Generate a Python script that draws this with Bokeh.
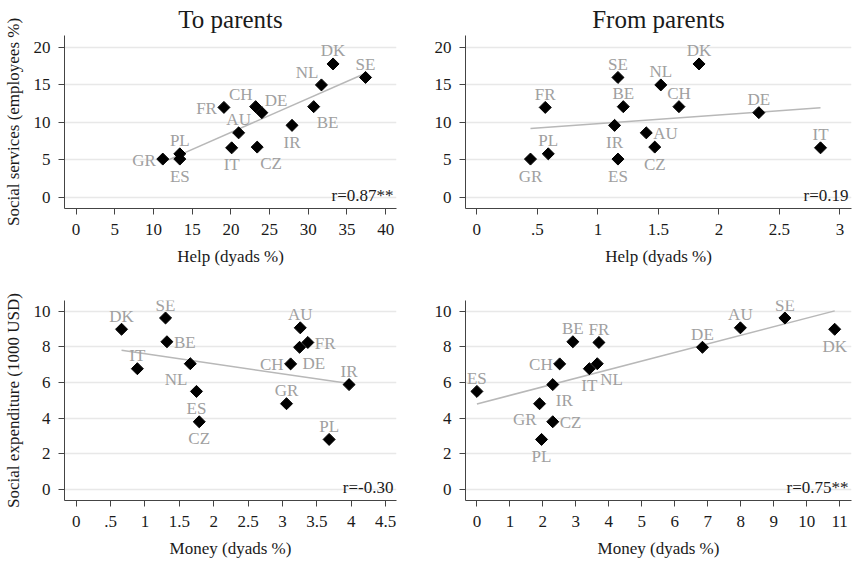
import numpy as np
from bokeh.plotting import figure
from bokeh.layouts import column, row
from bokeh.models import ColumnDataSource, Range1d, FixedTicker
from bokeh.embed import file_html
from bokeh.resources import INLINE
from bokeh.core.properties import value

countries = ["AU", "BE", "CH", "CZ", "DE", "DK", "ES", "FR", "GR", "IR", "IT", "NL", "PL", "SE"]

# y values
social_services = [8.6, 12.1, 12.1, 6.7, 11.3, 17.8, 5.1, 12.0, 5.1, 9.6, 6.6, 15.0, 5.8, 16.0]
social_expenditure = [9.06, 8.28, 7.04, 3.80, 7.97, 8.98, 5.50, 8.24, 4.81, 5.88, 6.77, 7.05, 2.81, 9.61]

# x values
help_to = [21.0, 30.7, 23.2, 23.4, 24.0, 33.2, 13.4, 19.1, 11.2, 27.9, 20.1, 31.7, 13.4, 37.4]
help_from = [1.40, 1.21, 1.67, 1.47, 2.33, 1.836, 1.166, 0.565, 0.443, 1.138, 2.84, 1.52, 0.59, 1.166]
money_to = [3.26, 1.32, 3.12, 1.79, 3.25, 0.66, 1.75, 3.37, 3.06, 3.97, 0.89, 1.66, 3.68, 1.30]
money_from = [7.99, 2.91, 2.51, 2.30, 6.84, 10.85, 0.0, 3.70, 1.90, 2.30, 3.41, 3.65, 1.96, 9.34]

# label clock positions
pos1 = [12, 5, 11, 5, 1, 12, 6, 9, 9, 6, 6, 11, 12, 12]
pos2 = [3, 12, 12, 6, 12, 12, 6, 12, 6, 6, 12, 12, 12, 12]
pos3 = [12, 3, 9, 6, 5, 12, 6, 3, 12, 12, 12, 7, 12, 12]
pos4 = [12, 12, 9, 3, 12, 6, 12, 12, 7, 5, 6, 5, 6, 12]

r_texts = ["r=0.87**", "r=0.19", "r=-0.30", "r=0.75**"]
titles = ["To parents", "From parents"]

x_ticks1 = [0, 5, 10, 15, 20, 25, 30, 35, 40]
x_ticks2 = [0, 0.5, 1, 1.5, 2, 2.5, 3]
x_labels2 = ["0", ".5", "1", "1.5", "2", "2.5", "3"]
x_ticks3 = [0, 0.5, 1, 1.5, 2, 2.5, 3, 3.5, 4, 4.5]
x_labels3 = ["0", ".5", "1", "1.5", "2", "2.5", "3", "3.5", "4", "4.5"]
x_ticks4 = list(range(0, 12))
y_ticks_top = [0, 5, 10, 15, 20]
y_ticks_bot = [0, 2, 4, 6, 8, 10]

FONT = "Liberation Serif"
OFFS = {12: (0, -13, "center"), 6: (0, 17, "center"), 3: (7, 1, "left"), 9: (-7, 1, "right"),
        1: (3, -12, "left"), 11: (-3, -12, "right"), 5: (3, 16, "left"), 7: (-3, 16, "right")}


def make_panel(xs, ys, pos, xr, yr, xticks, xlabels, yticks, rtext, xlabel, ylabel,
               width, height, bl, br, bt, bb, title=None):
    p = figure(width=width, height=height, x_range=Range1d(*xr), y_range=Range1d(*yr),
               output_backend="svg", toolbar_location=None,
               min_border_left=bl, min_border_right=br, min_border_top=bt, min_border_bottom=bb)
    p.outline_line_color = None
    p.background_fill_color = "white"
    p.border_fill_color = "white"
    if title:
        p.title.text = title
        p.title.text_font = FONT
        p.title.text_font_size = "25px"
        p.title.text_font_style = "normal"
        p.title.text_color = "#1a1a1a"
        p.title.align = "center"
        p.title.standoff = 5
    p.xgrid.visible = False
    p.ygrid.grid_line_color = "#e8e8e8"
    p.ygrid.grid_line_width = 1.5
    p.ygrid.ticker = FixedTicker(ticks=yticks)
    for ax in (p.xaxis[0], p.yaxis[0]):
        ax.axis_line_color = "#444444"
        ax.axis_line_width = 1
        ax.major_tick_line_color = "#444444"
        ax.major_tick_out = 6
        ax.major_tick_in = 0
        ax.minor_tick_line_color = None
        ax.major_label_text_font = FONT
        ax.major_label_text_font_size = "17px"
        ax.major_label_text_color = "#1a1a1a"
        ax.axis_label_text_font = FONT
        ax.axis_label_text_font_size = "17px"
        ax.axis_label_text_font_style = "normal"
        ax.axis_label_text_color = "#1a1a1a"
    p.xaxis[0].major_label_standoff = 9
    p.yaxis[0].major_label_standoff = 8
    p.xaxis[0].ticker = FixedTicker(ticks=xticks)
    p.yaxis[0].ticker = FixedTicker(ticks=yticks)
    if xlabels is not None:
        p.xaxis[0].major_label_overrides = {t: l for t, l in zip(xticks, xlabels)}
    p.xaxis[0].axis_label = xlabel
    p.xaxis[0].axis_label_standoff = 9
    if ylabel:
        p.yaxis[0].axis_label = ylabel
        p.yaxis[0].axis_label_standoff = 8

    xs = np.array(xs, dtype=float)
    ys = np.array(ys, dtype=float)
    b, a = np.polyfit(xs, ys, 1)
    lx = np.array([xs.min(), xs.max()])
    p.line(lx, a + b * lx, line_color="#b8b8b8", line_width=1.5)

    p.scatter(xs, ys, marker="square", angle=np.pi / 4, size=8.5,
              fill_color="black", line_color="black")

    src = ColumnDataSource(dict(
        x=xs, y=ys, t=countries,
        dx=[OFFS[k][0] for k in pos], dy=[OFFS[k][1] for k in pos],
        al=[OFFS[k][2] for k in pos]))
    p.text(x="x", y="y", text="t", x_offset="dx", y_offset="dy", text_align="al",
           text_baseline="middle", source=src, text_font=value(FONT),
           text_font_size="17px", text_color="#a0a0a0")

    p.text(x=[xr[1]], y=[yr[0]], text=[rtext], x_offset=-3, y_offset=-4,
           text_align="right", text_baseline="bottom", text_font=value(FONT),
           text_font_size="17px", text_color="#1a1a1a")
    return p


p1 = make_panel(help_to, social_services, pos1, (-1.5, 41.4), (-1.5, 21.6), x_ticks1, None,
                y_ticks_top, r_texts[0], "Help (dyads %)", "Social services (employees %)",
                426, 280, 64, 30, 35, 72, title=titles[0])
p2 = make_panel(help_from, social_services, pos2, (-0.094, 3.096), (-1.5, 21.6), x_ticks2, x_labels2,
                y_ticks_top, r_texts[1], "Help (dyads %)", None,
                426, 280, 39, 1, 35, 72, title=titles[1])
p3 = make_panel(money_to, social_expenditure, pos3, (-0.17, 4.66), (-0.61, 10.59), x_ticks3, x_labels3,
                y_ticks_bot, r_texts[2], "Money (dyads %)", "Social expenditure (1000 USD)",
                426, 280, 64, 30, 20, 58)
p4 = make_panel(money_from, social_expenditure, pos4, (-0.346, 11.36), (-0.61, 10.59), x_ticks4, None,
                y_ticks_bot, r_texts[3], "Money (dyads %)", None,
                426, 280, 39, 1, 20, 58)

layout = column(row(p1, p2), row(p3, p4))
open("out.html", "w").write(file_html(layout, INLINE))
